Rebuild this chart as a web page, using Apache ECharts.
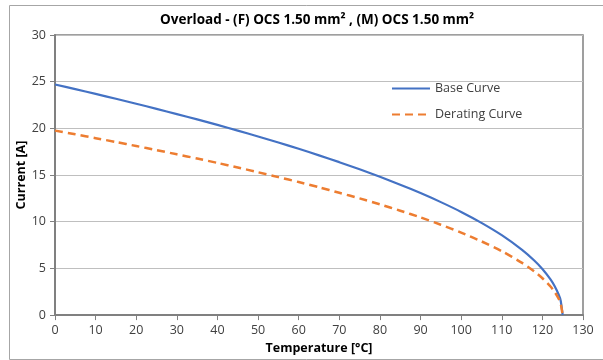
<!DOCTYPE html>
<html>
<head>
<meta charset="utf-8">
<script src="https://cdn.jsdelivr.net/npm/echarts@6/dist/echarts.min.js"></script>
<style>
  html, body { margin: 0; padding: 0; background: #ffffff; }
  #chart { width: 603px; height: 360px; }
</style>
</head>
<body>
<div id="chart"></div>
<script>
// Temperature samples [°C]
const temperatures = [0, 5, 10, 15, 20, 25, 30, 35, 40, 45, 50, 55, 60, 65, 70, 75, 80, 85, 90, 95, 100, 105, 110, 115, 118, 120, 122, 123, 124, 124.5, 125];
// Base curve current [A]
const baseCurrent = [24.70, 24.20, 23.69, 23.17, 22.64, 22.09, 21.53, 20.96, 20.37, 19.76, 19.13, 18.48, 17.81, 17.11, 16.38, 15.62, 14.82, 13.97, 13.07, 12.10, 11.05, 9.88, 8.56, 6.99, 5.85, 4.94, 3.83, 3.12, 2.21, 1.56, 0];
// Derating curve current [A]
const deratingCurrent = [19.76, 19.36, 18.95, 18.54, 18.11, 17.67, 17.22, 16.77, 16.30, 15.81, 15.30, 14.78, 14.25, 13.69, 13.10, 12.50, 11.86, 11.18, 10.46, 9.68, 8.84, 7.90, 6.85, 5.59, 4.68, 3.95, 3.06, 2.50, 1.77, 1.25, 0];

const seriesNames = ['Base Curve', 'Derating Curve'];
const chartTitle = 'Overload - (F) OCS 1.50 mm\u00b2 , (M) OCS 1.50 mm\u00b2';
const xAxisName = 'Temperature [\u00b0C]';
const yAxisName = 'Current [A]';

const pairs = (xs, ys) => xs.map((x, i) => [x, ys[i]]);

const font = 'Open Sans, Noto Sans, sans-serif';
const chart = echarts.init(document.getElementById('chart'), null, { renderer: 'canvas' });

chart.setOption({
  backgroundColor: '#ffffff',
  animation: false,
  graphic: [{
    type: 'rect',
    left: 7, top: 3,
    shape: { width: 610, height: 354 },
    style: { fill: 'none', stroke: '#a6a6a6', lineWidth: 1 },
    silent: true,
    z: -1
  }],
  title: {
    text: chartTitle,
    left: 155,
    top: 8,
    textStyle: { fontFamily: font, fontSize: 13.5, fontWeight: 'bold', color: '#000000' }
  },
  legend: {
    orient: 'vertical',
    left: 386,
    top: 77,
    itemWidth: 38,
    itemHeight: 14,
    itemGap: 13,
    itemStyle: { opacity: 0 },
    data: seriesNames,
    textStyle: { fontFamily: font, fontSize: 12.5, color: '#404040' }
  },
  grid: { left: 55, right: 20, top: 35, bottom: 44, show: true, borderColor: '#808080', borderWidth: 1.5 },
  xAxis: {
    type: 'value',
    min: 0, max: 130, interval: 10,
    name: xAxisName,
    nameLocation: 'middle',
    nameGap: 24,
    nameTextStyle: { fontFamily: font, fontSize: 12.5, fontWeight: 'bold', color: '#000000' },
    axisLine: { show: true, lineStyle: { color: '#808080', width: 2 } },
    axisTick: { show: true, length: 5, lineStyle: { color: '#808080' } },
    axisLabel: { fontFamily: font, fontSize: 12.5, color: '#404040', margin: 9 },
    splitLine: { show: false }
  },
  yAxis: {
    type: 'value',
    min: 0, max: 30, interval: 5,
    name: yAxisName,
    nameLocation: 'middle',
    nameGap: 27,
    nameMoveOverlap: false,
    nameTextStyle: { fontFamily: font, fontSize: 12.5, fontWeight: 'bold', color: '#000000' },
    axisLine: { show: true, lineStyle: { color: '#808080', width: 2 } },
    axisTick: { show: true, length: 5, lineStyle: { color: '#808080' } },
    axisLabel: { fontFamily: font, fontSize: 12.5, color: '#404040', margin: 9 },
    splitLine: { show: true, lineStyle: { color: '#bfbfbf', width: 1 } }
  },
  series: [
    {
      name: seriesNames[0],
      type: 'line',
      data: pairs(temperatures, baseCurrent),
      showSymbol: false,
      symbol: 'none',
      smooth: 0.2,
      color: '#4472c4',
      lineStyle: { color: '#4472c4', width: 2.2 }
    },
    {
      name: seriesNames[1],
      type: 'line',
      data: pairs(temperatures, deratingCurrent),
      showSymbol: false,
      symbol: 'none',
      smooth: 0.2,
      color: '#ed7d31',
      lineStyle: { color: '#ed7d31', width: 2.5, type: [8, 5] }
    }
  ]
});
</script>
</body>
</html>
